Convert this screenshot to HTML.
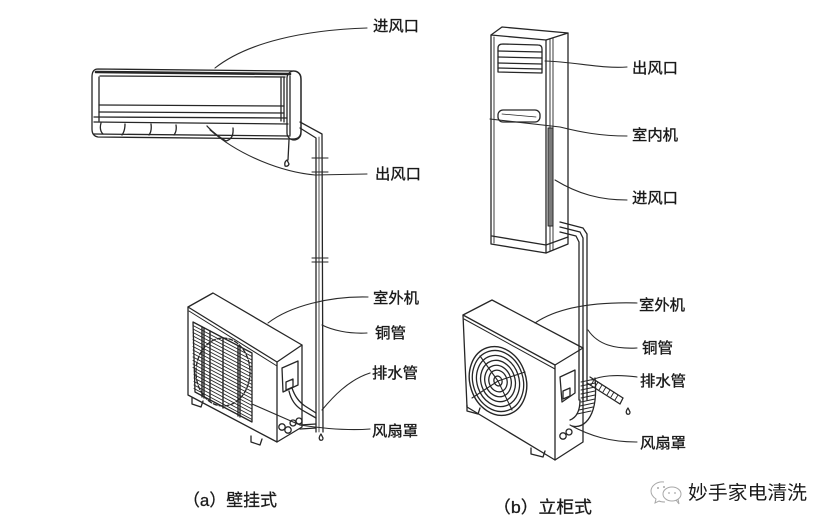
<!DOCTYPE html>
<html><head><meta charset="utf-8">
<style>
html,body{margin:0;padding:0;background:#fff;width:834px;height:526px;overflow:hidden}
svg{display:block}
text{font-family:"Liberation Sans","Noto Sans CJK SC",sans-serif;fill:#1a1a1a;}
.lb{font-size:15px;stroke:#1a1a1a;stroke-width:0.35px;}
</style></head><body>
<svg width="834" height="526" viewBox="0 0 834 526" xmlns="http://www.w3.org/2000/svg">
<g fill="none" stroke="#262626" stroke-width="1.3" stroke-linejoin="round" stroke-linecap="round">

<!-- ===== Left: wall-mounted indoor unit ===== -->
<path d="M98,69 L294,71 Q301,72 301,80 L301,131 Q301,139 293,139 L98,137 Q92,136 92,129 L92,77 Q92,69 98,69Z"/>
<path d="M96,72 L290,74" stroke-width="2.6"/>
<path d="M100,76 L285,77"/>
<path d="M99,77 L99,121 M284,77 L284,122 M281,78 L281,121"/>
<path d="M99,105 L284,106 M99,112 L284,113 M94,117 L287,118 M94,122 L288,124"/>
<path d="M94,134 L290,136"/>
<path d="M101,123 Q99,130 103,134 M125,124 Q125,131 122,135 M151,124 Q152,131 149,135 M176,125 Q177,131 174,135"/>
<path d="M207,126 Q214,134 226,141 Q234,139 233,128"/>
<rect x="287" y="71" width="14" height="69" rx="7"/>
<path d="M290,76 L290,135"/>
<!-- cable -->
<path d="M289,140 L288,160"/>
<path d="M287,160 q-3,2 -2,6 q3,1 4,-2 z"/>
<!-- pipe -->
<path d="M300,122 L322,134 L323,432"/>
<path d="M300,128 L316,138 L316,432"/>
<path d="M319,137 L319,432" stroke-width="0.8"/>
<path d="M312,158 L328,158 M312,172 L328,172 M312,258 L328,258 M312,262 L328,262" stroke-width="1.1"/>
<path d="M321,434 q-3,4 -1,6 q3,1 3,-2 z"/>

<!-- ===== Left: outdoor unit ===== -->
<path d="M188,307 L213,293 L302,345 L277,362 Z"/>
<path d="M189,311 L277,366" stroke-width="1"/>
<path d="M188,307 L188,395 L277,442 L277,362"/>
<path d="M277,442 L302,427 L302,345"/>
<path d="M193,322 L252,353 L252,422 L195,392 Z"/>
<path stroke-width="0.9" d="M193,325.5 l59,31 M193,329 l59,31 M193,332.5 l59,31 M193,336 l59,31 M193,339.5 l59,31 M193,343 l59,31 M193,346.5 l59,31 M193,350 l59,31 M193,353.5 l59,31 M193,357 l59,31 M193,360.5 l59,31 M193,364 l59,31 M193,367.5 l59,31 M194,371 l58,31 M194,374.5 l58,31 M194,378 l58,31 M194,381.5 l58,31 M194,385 l58,31 M194,388.5 l58,31"/>
<path stroke-width="1.4" d="M202,327 L202,397 M210,331 L210,401 M223,338 L223,408 M238,346 L238,416 M204,328 L204,398 M240,347 L240,417"/>
<ellipse cx="223" cy="372" rx="27" ry="34" stroke-dasharray="4 2" stroke-width="1.3"/>
<!-- side panel -->
<path d="M282,368 L298,361 L298,385 L283,392 Z"/>
<path d="M286,382 L293,379 L293,387 L286,390 Z"/>
<!-- feet -->
<path d="M192,398 L192,404 L201,407 L203,401"/>
<path d="M251,436 L251,442 L260,445 L262,439"/>
<!-- drain hose & valves -->
<path d="M292,388 Q296,400 305,406 L316,413"/>
<path d="M289,391 Q292,404 302,410 L316,418"/>
<circle cx="282" cy="427" r="3.2"/>
<circle cx="288" cy="430" r="3.2"/>
<circle cx="293" cy="423" r="3"/>
<circle cx="299" cy="421" r="3"/>
<path d="M300,425 L316,424 M300,429 L316,428"/>

<!-- ===== Right: floor standing indoor unit ===== -->
<path d="M491,35 L502,27 L568,33 L546,40 Z"/>
<path d="M491,35 L491,244 L546,253 L546,40"/>
<path d="M546,253 L568,244 L568,33"/>
<path d="M494,37 L494,243" stroke-width="0.9"/>
<path d="M550,39 L550,251 M553,38 L553,250" stroke-width="0.9"/>
<path d="M492,236 L546,245 L568,237"/>
<!-- outlet grille -->
<path d="M498,48 Q498,44 503,44 L538,45 Q542,45 542,49 L542,73 L498,72 Z"/>
<path d="M498,51 L542,52 M498,57 L542,58 M498,63 L542,64 M498,68 L542,69"/>
<!-- display -->
<rect x="498" y="110" width="42" height="12" rx="5"/>
<path d="M502,114 L536,117" stroke-width="0.8"/>
<!-- side intake -->
<rect x="548" y="128" width="5" height="98" fill="#7a7a7a" stroke-width="0.9"/>
<!-- pipes -->
<path d="M560,222 L583,228 L587,234 L587,400"/>
<path d="M560,227 L580,232 L583,238 L583,400"/>
<path d="M560,232 L576,236 L579,242 L579,400"/>
<!-- coil insulation -->
<path stroke-width="1" d="M581,382 l14,-3 M581,386 l14,-3 M581,390 l14,-3 M581,394 l14,-3 M581,398 l14,-3 M581,402 l14,-3 M580,406 l14,-3 M579,410 l14,-3 M577,414 l14,-3"/>
<path d="M595,378 Q598,410 586,422 Q580,428 572,426"/>
<path d="M580,400 Q580,416 570,420"/>

<!-- ===== Right: outdoor unit ===== -->
<path d="M463,315 L492,300 L583,348 L555,365 Z"/>
<path d="M464,319 L555,369" stroke-width="1"/>
<path d="M463,315 L467,407 L555,460 L555,365"/>
<path d="M555,460 L583,442 L583,348"/>
<!-- fan guard -->
<g transform="rotate(-18 498 381)">
<ellipse cx="498" cy="381" rx="28" ry="35" stroke-width="1.4"/>
<ellipse cx="498" cy="381" rx="25" ry="31"/>
<ellipse cx="498" cy="381" rx="21" ry="26"/>
<ellipse cx="498" cy="381" rx="17" ry="21"/>
<ellipse cx="498" cy="381" rx="13" ry="16"/>
<ellipse cx="498" cy="381" rx="9" ry="11"/>
<ellipse cx="498" cy="381" rx="4" ry="5"/>
</g>
<path d="M498,381 L480,356 M498,381 L525,372 M498,381 L512,410 M498,381 L472,398" stroke-width="1.1"/>
<!-- side panel -->
<path d="M560,377 L575,370 L575,393 L562,402 Z"/>
<path d="M563,391 L570,388 L570,396 L563,399 Z"/>
<!-- feet -->
<path d="M467,405 L467,411 L478,414 L480,408"/>
<path d="M531,448 L531,454 L543,457 L545,451"/>
<!-- valves -->
<circle cx="563" cy="436" r="3.2"/>
<circle cx="569" cy="432" r="3"/>
<!-- drain hose -->
<path d="M590,377 L623,398 M587,383 L620,404 M623,398 L620,404"/>
<path stroke-width="0.9" d="M594,380 l-3,5 M598,382 l-3,5 M602,385 l-3,5 M606,387 l-3,5 M610,390 l-3,5 M614,392 l-3,5 M618,395 l-3,5"/>
<path d="M628,408 q-3,4 -1,6 q3,1 3,-2 z"/>

<!-- ===== Leaders ===== -->
<g stroke="#2a2a2a" stroke-width="1.1">
<path d="M367,28 C305,30 248,42 215,68"/>
<path d="M367,174 L315,175 C282,172 240,156 210,130"/>
<path d="M368,297 C330,296 290,306 268,323"/>
<path d="M367,333 C348,334 332,330 322,325"/>
<path d="M370,373 C348,380 332,398 322,410"/>
<path d="M370,429 C345,431 320,428 300,425 L252,404"/>

<path d="M627,67 C603,69 575,62 545,61"/>
<path d="M627,136 C600,136 580,132 560,127 L490,119"/>
<path d="M627,200 C600,200 578,194 555,180"/>
<path d="M637,303 C600,302 560,306 535,323"/>
<path d="M637,348 C615,349 598,345 588,330"/>
<path d="M637,377 C615,374 600,376 592,380"/>
<path d="M637,442 C610,442 590,436 570,425"/>
</g>
</g>

<!-- ===== Labels ===== -->
<text class="lb" x="373" y="31" textLength="46" lengthAdjust="spacingAndGlyphs">进风口</text>
<text class="lb" x="375" y="179" textLength="46" lengthAdjust="spacingAndGlyphs">出风口</text>
<text class="lb" x="373" y="303" textLength="46" lengthAdjust="spacingAndGlyphs">室外机</text>
<text class="lb" x="375" y="338" textLength="31" lengthAdjust="spacingAndGlyphs">铜管</text>
<text class="lb" x="372" y="378" textLength="46" lengthAdjust="spacingAndGlyphs">排水管</text>
<text class="lb" x="372" y="436" textLength="46" lengthAdjust="spacingAndGlyphs">风扇罩</text>

<text class="lb" x="632" y="73" textLength="46" lengthAdjust="spacingAndGlyphs">出风口</text>
<text class="lb" x="632" y="140" textLength="46" lengthAdjust="spacingAndGlyphs">室内机</text>
<text class="lb" x="632" y="203" textLength="46" lengthAdjust="spacingAndGlyphs">进风口</text>
<text class="lb" x="639" y="310" textLength="46" lengthAdjust="spacingAndGlyphs">室外机</text>
<text class="lb" x="642" y="353" textLength="31" lengthAdjust="spacingAndGlyphs">铜管</text>
<text class="lb" x="640" y="386" textLength="46" lengthAdjust="spacingAndGlyphs">排水管</text>
<text class="lb" x="640" y="448" textLength="46" lengthAdjust="spacingAndGlyphs">风扇罩</text>

<text x="183" y="506" font-size="17" textLength="94" lengthAdjust="spacingAndGlyphs" fill="#222" stroke="#222" stroke-width="0.3">（a）壁挂式</text>
<text x="493" y="513" font-size="17" textLength="99" lengthAdjust="spacingAndGlyphs" fill="#222" stroke="#222" stroke-width="0.3">（b）立柜式</text>

<!-- watermark -->
<g fill="none" stroke="#a8a8a8" stroke-width="1">
<path d="M664,482 c-7,-1 -13,4 -13,9 c0,3 2,6 5,8 l-1,4 l4,-2 c2,1 4,1 6,1"/>
<ellipse cx="672" cy="494" rx="9" ry="7"/>
<path d="M676,500 l3,4 l-1,-5"/>
</g>
<g fill="#a8a8a8"><circle cx="658" cy="488" r="1"/><circle cx="664" cy="487" r="1"/><circle cx="669" cy="493" r="0.9"/><circle cx="675" cy="493" r="0.9"/></g>
<text x="688" y="499" font-size="19" textLength="119" lengthAdjust="spacingAndGlyphs" fill="#9a9a9a">妙手家电清洗</text>
</svg>
</body></html>
